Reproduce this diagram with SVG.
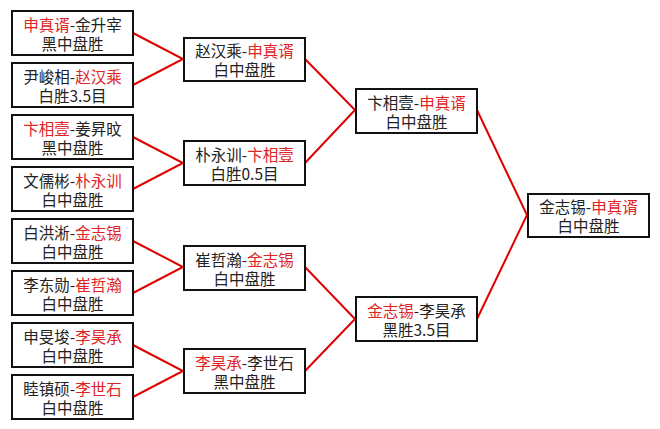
<svg xmlns="http://www.w3.org/2000/svg" width="660" height="429" viewBox="0 0 660 429">
<style>
.box{fill:#fff;stroke:#111;stroke-width:2}
text{font-family:"Noto Sans CJK SC","Noto Sans",sans-serif;font-size:15.5px;fill:#222;text-anchor:middle}
.r{fill:#e02424}
.ln{stroke:#e00000;stroke-width:2;fill:none}
</style>
<rect width="660" height="429" fill="#fff"/>
<g id="connectors">
<path class="ln" d="M133,33 L183,59 L133,85"/>
<path class="ln" d="M133,137 L183,163 L133,189"/>
<path class="ln" d="M133,241 L183,267 L133,293"/>
<path class="ln" d="M133,345 L183,371 L133,397"/>
<path class="ln" d="M305,59 L355,110 L305,163"/>
<path class="ln" d="M305,267 L355,319 L305,371"/>
<path class="ln" d="M477,110 L527,215 L477,319"/>
</g>
<g id="n1"><rect class="box" x="12" y="11" width="121" height="44"/><text x="72.5" y="31"><tspan class="r">申真谞</tspan>-金升宰</text><text x="72.5" y="50">黑中盘胜</text></g>
<g id="n2"><rect class="box" x="12" y="63" width="121" height="44"/><text x="72.5" y="83">尹峻相-<tspan class="r">赵汉乘</tspan></text><text x="72.5" y="102">白胜3.5目</text></g>
<g id="n3"><rect class="box" x="12" y="115" width="121" height="44"/><text x="72.5" y="135"><tspan class="r">卞相壹</tspan>-姜昇旼</text><text x="72.5" y="154">黑中盘胜</text></g>
<g id="n4"><rect class="box" x="12" y="167" width="121" height="44"/><text x="72.5" y="187">文儒彬-<tspan class="r">朴永训</tspan></text><text x="72.5" y="206">白中盘胜</text></g>
<g id="n5"><rect class="box" x="12" y="219" width="121" height="44"/><text x="72.5" y="239">白洪淅-<tspan class="r">金志锡</tspan></text><text x="72.5" y="258">白中盘胜</text></g>
<g id="n6"><rect class="box" x="12" y="271" width="121" height="44"/><text x="72.5" y="291">李东勋-<tspan class="r">崔哲瀚</tspan></text><text x="72.5" y="310">白中盘胜</text></g>
<g id="n7"><rect class="box" x="12" y="323" width="121" height="44"/><text x="72.5" y="343">申旻埈-<tspan class="r">李昊承</tspan></text><text x="72.5" y="362">白中盘胜</text></g>
<g id="n8"><rect class="box" x="12" y="375" width="121" height="44"/><text x="72.5" y="395">睦镇硕-<tspan class="r">李世石</tspan></text><text x="72.5" y="414">白中盘胜</text></g>
<g id="q1"><rect class="box" x="184" y="38" width="121" height="43"/><text x="244.5" y="57">赵汉乘-<tspan class="r">申真谞</tspan></text><text x="244.5" y="76">白中盘胜</text></g>
<g id="q2"><rect class="box" x="184" y="141" width="121" height="44"/><text x="244.5" y="161">朴永训-<tspan class="r">卞相壹</tspan></text><text x="244.5" y="180">白胜0.5目</text></g>
<g id="q3"><rect class="box" x="184" y="246" width="121" height="44"/><text x="244.5" y="266">崔哲瀚-<tspan class="r">金志锡</tspan></text><text x="244.5" y="285">白中盘胜</text></g>
<g id="q4"><rect class="box" x="184" y="349" width="121" height="44"/><text x="244.5" y="369"><tspan class="r">李昊承</tspan>-李世石</text><text x="244.5" y="388">黑中盘胜</text></g>
<g id="s1"><rect class="box" x="356" y="89" width="121" height="44"/><text x="416.5" y="109">卞相壹-<tspan class="r">申真谞</tspan></text><text x="416.5" y="128">白中盘胜</text></g>
<g id="s2"><rect class="box" x="356" y="297" width="121" height="44"/><text x="416.5" y="317"><tspan class="r">金志锡</tspan>-李昊承</text><text x="416.5" y="336">黑胜3.5目</text></g>
<g id="f"><rect class="box" x="528" y="194" width="121" height="43"/><text x="588.5" y="213">金志锡-<tspan class="r">申真谞</tspan></text><text x="588.5" y="232">白中盘胜</text></g>
</svg>
